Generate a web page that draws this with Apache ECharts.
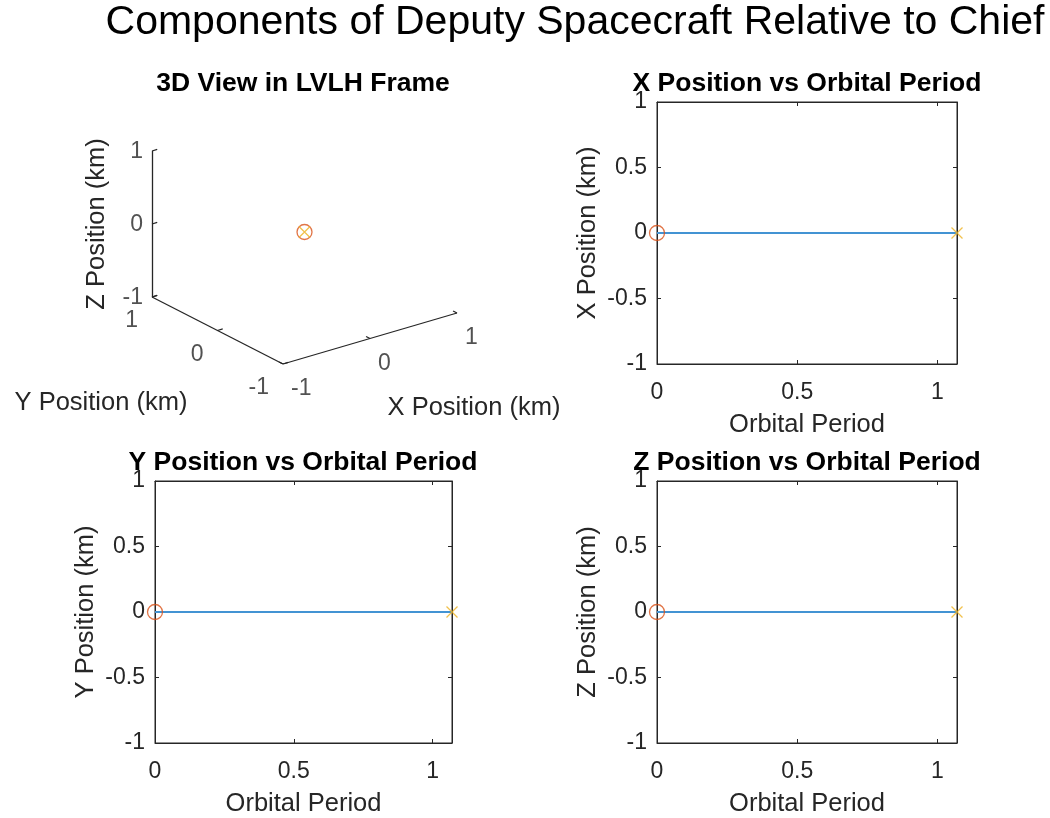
<!DOCTYPE html>
<html>
<head>
<meta charset="utf-8">
<title>Components of Deputy Spacecraft Relative to Chief</title>
<script src="https://cdn.jsdelivr.net/npm/echarts@6/dist/echarts.min.js"></script>
<style>
  html, body { margin: 0; padding: 0; background: #ffffff; }
  #chart { width: 1050px; height: 818px; }
</style>
</head>
<body>
<div id="chart"></div>
<script>
// Relative motion of the deputy in the chief's LVLH frame (km) against time in orbital periods
const orbitalPeriod = [0, 1.07];
const xPosition = [0, 0];
const yPosition = [0, 0];
const zPosition = [0, 0];

// Tick values
const positionTicks = [-1, -0.5, 0, 0.5, 1];
const periodTicks = [0, 0.5, 1];
const cubeTicks = [-1, 0, 1];

const FONT = "'Liberation Sans', Arial, Helvetica, sans-serif";
const AXIS = '#262626';
const LINE_BLUE = '#4393d3';
const START_ORANGE = '#D95319';
const END_YELLOW = '#EDB120';
const X_SYMBOL = 'path://M0,0L10,10M0,10L10,0';

// Screen direction of one unit along each axis of the 3D box (fixed oblique view)
const view = { ex: [87, 25.5], ey: [-65.5, 33.5], ez: [0, 73] };
function project(x, y, z) {
  return [
    (x + 1) * view.ex[0] + (y + 1) * view.ey[0] + (z + 1) * view.ez[0],
    (x + 1) * view.ex[1] + (y + 1) * view.ey[1] + (z + 1) * view.ez[1]
  ];
}

const grids = [
  { left: 152, top: 100, width: 305, height: 264 },   // 3D view
  { left: 657, top: 102, width: 300, height: 262 },   // X
  { left: 155, top: 481, width: 297, height: 262 },   // Y
  { left: 657, top: 481, width: 300, height: 262 }    // Z
].map(g => Object.assign({ show: true, borderColor: AXIS, borderWidth: 1, backgroundColor: 'transparent' }, g));

const xAxes = [];
const yAxes = [];
const series = [];

// ---- 3D panel on a hidden screen-space cartesian ----
xAxes.push({ type: 'value', gridIndex: 0, show: false, min: project(-1, 1, -1)[0], max: project(1, -1, -1)[0] });
yAxes.push({ type: 'value', gridIndex: 0, show: false, min: 0, max: project(1, 1, 1)[1] });
grids[0].show = false;

const boxEdges = [
  [[-1, -1, -1], [1, -1, -1]],   // X axis
  [[-1, -1, -1], [-1, 1, -1]],   // Y axis
  [[-1, 1, -1], [-1, 1, 1]]      // Z axis
];
const tickLen = 0.06;
const tickSegs = [];
cubeTicks.forEach(t => {
  tickSegs.push([[t, -1, -1], [t, -1 + tickLen, -1]]);
  tickSegs.push([[-1, t, -1], [-1 + tickLen, t, -1]]);
  tickSegs.push([[-1, 1, t], [-1 + tickLen, 1, t]]);
});
series.push({
  type: 'lines', coordinateSystem: 'cartesian2d', xAxisIndex: 0, yAxisIndex: 0,
  silent: true, z: 1,
  lineStyle: { color: AXIS, width: 1.3, opacity: 1 },
  data: boxEdges.concat(tickSegs).map(seg => ({ coords: seg.map(p => project(p[0], p[1], p[2])) }))
});

function tickLabels3d(points, align, offset) {
  return {
    type: 'scatter', xAxisIndex: 0, yAxisIndex: 0, silent: true, clip: false,
    symbolSize: 1, itemStyle: { color: 'rgba(0,0,0,0)' },
    label: {
      show: true, position: 'inside', align: align, verticalAlign: 'middle',
      offset: offset, fontFamily: FONT, fontSize: 23, color: AXIS,
      formatter: p => String(p.data[2])
    },
    data: points
  };
}
series.push(tickLabels3d(cubeTicks.map(t => project(t, -1, -1).concat([t])), 'left', [8, 25]));
series.push(tickLabels3d(cubeTicks.map(t => project(-1, t, -1).concat([t])), 'right', [-14, 24]));
series.push(tickLabels3d(cubeTicks.map(t => project(-1, 1, t).concat([t])), 'right', [-9, 1]));

const traj3d = orbitalPeriod.map((_, i) => project(xPosition[i], yPosition[i], zPosition[i]));
series.push({
  type: 'line', xAxisIndex: 0, yAxisIndex: 0, data: traj3d, showSymbol: false, silent: true,
  lineStyle: { color: LINE_BLUE, width: 2 }, z: 3
});
series.push({
  type: 'scatter', xAxisIndex: 0, yAxisIndex: 0, data: [traj3d[0]], clip: false, silent: true,
  symbol: 'circle', symbolSize: 15, z: 4,
  itemStyle: { color: 'rgba(0,0,0,0)', borderColor: START_ORANGE, borderWidth: 1.3 }
});
series.push({
  type: 'scatter', xAxisIndex: 0, yAxisIndex: 0, data: [traj3d[traj3d.length - 1]], clip: false, silent: true,
  symbol: X_SYMBOL, symbolSize: 11, z: 5,
  itemStyle: { color: 'none', borderColor: END_YELLOW, borderWidth: 1.3 }
});

// ---- 2D component panels ----
function addPanel(gridIndex, yName, values) {
  const tickStyle = { color: AXIS, width: 1 };
  const xi = xAxes.length;
  const yi = yAxes.length;
  const xBase = {
    type: 'value', gridIndex: gridIndex, min: 0, max: orbitalPeriod[orbitalPeriod.length - 1],
    axisLine: { show: true, onZero: false, lineStyle: tickStyle },
    axisTick: { show: true, inside: true, length: 4, customValues: periodTicks, lineStyle: tickStyle },
    splitLine: { show: false }
  };
  xAxes.push(Object.assign({}, xBase, {
    position: 'bottom',
    name: 'Orbital Period', nameLocation: 'middle', nameGap: 48,
    nameTextStyle: { fontFamily: FONT, fontSize: 25.5, color: AXIS },
    axisLabel: { customValues: periodTicks, fontFamily: FONT, fontSize: 23, color: AXIS, margin: 17 }
  }));
  xAxes.push(Object.assign({}, xBase, { position: 'top', axisLabel: { show: false } }));

  const yBase = {
    type: 'value', gridIndex: gridIndex, min: -1, max: 1, interval: 0.5,
    axisLine: { show: true, onZero: false, lineStyle: tickStyle },
    axisTick: { show: true, inside: true, length: 4, customValues: positionTicks, lineStyle: tickStyle },
    splitLine: { show: false }
  };
  yAxes.push(Object.assign({}, yBase, {
    position: 'left',
    name: yName, nameLocation: 'middle', nameGap: 56,
    nameTextStyle: { fontFamily: FONT, fontSize: 25.5, color: AXIS },
    axisLabel: { customValues: positionTicks, fontFamily: FONT, fontSize: 23, color: AXIS, margin: 10 }
  }));
  yAxes.push(Object.assign({}, yBase, { position: 'right', axisLabel: { show: false } }));

  const pts = orbitalPeriod.map((t, i) => [t, values[i]]);
  series.push({
    type: 'line', xAxisIndex: xi, yAxisIndex: yi, data: pts, showSymbol: false, silent: true,
    lineStyle: { color: LINE_BLUE, width: 2 }, z: 3
  });
  series.push({
    type: 'scatter', xAxisIndex: xi, yAxisIndex: yi, data: [pts[0]], clip: false, silent: true,
    symbol: 'circle', symbolSize: 15, z: 4,
    itemStyle: { color: 'rgba(0,0,0,0)', borderColor: START_ORANGE, borderWidth: 1.3 }
  });
  series.push({
    type: 'scatter', xAxisIndex: xi, yAxisIndex: yi, data: [pts[pts.length - 1]], clip: false, silent: true,
    symbol: X_SYMBOL, symbolSize: 11, z: 5,
    itemStyle: { color: 'none', borderColor: END_YELLOW, borderWidth: 1.3 }
  });
}
addPanel(1, 'X Position (km)', xPosition);
addPanel(2, 'Y Position (km)', yPosition);
addPanel(3, 'Z Position (km)', zPosition);

// ---- Titles and 3D axis names ----
function text(str, x, y, size, weight, rotation) {
  return {
    type: 'text', x: x, y: y, rotation: rotation || 0, silent: true,
    style: {
      text: str, fontFamily: FONT, fontSize: size, fontWeight: weight || 'normal',
      fill: weight === 'bold' || size > 30 ? '#000000' : AXIS,
      textAlign: 'center', textVerticalAlign: 'middle'
    }
  };
}
const graphics = [
  text('Components of Deputy Spacecraft Relative to Chief', 575, 23, 41),
  text('3D View in LVLH Frame', 303, 84, 26.5, 'bold'),
  text('X Position vs Orbital Period', 807, 84, 26.5, 'bold'),
  text('Y Position vs Orbital Period', 303, 463, 26.5, 'bold'),
  text('Z Position vs Orbital Period', 807, 463, 26.5, 'bold'),
  text('Z Position (km)', 97, 224, 25.5, 'normal', Math.PI / 2),
  text('Y Position (km)', 101, 403, 25.5),
  text('X Position (km)', 474, 408, 25.5)
];

const chart = echarts.init(document.getElementById('chart'), null, { renderer: 'canvas' });
chart.setOption({
  animation: false,
  backgroundColor: '#ffffff',
  grid: grids,
  xAxis: xAxes,
  yAxis: yAxes,
  series: series,
  graphic: graphics
});
</script>
</body>
</html>
